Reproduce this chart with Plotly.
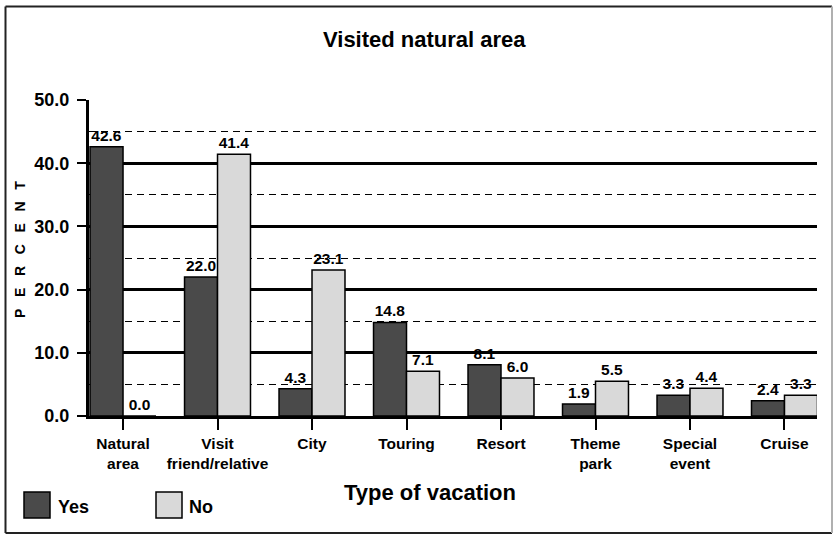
import plotly.graph_objects as go

categories = ["Natural<br>area", "Visit<br>friend/relative", "City", "Touring",
              "Resort", "Theme<br>park", "Special<br>event", "Cruise"]
yes_values = [42.6, 22.0, 4.3, 14.8, 8.1, 1.9, 3.3, 2.4]
no_values = [0.0, 41.4, 23.1, 7.1, 6.0, 5.5, 4.4, 3.3]
y_ticks = [0, 10, 20, 30, 40, 50]

FONT = "Liberation Sans, Arial, sans-serif"
YES_COLOR = "#4a4a4a"
NO_COLOR = "#d9d9d9"

fig = go.Figure()
fig.add_trace(go.Bar(
    name="Yes", x=categories, y=yes_values,
    marker=dict(color=YES_COLOR, line=dict(color="black", width=1.5)),
    text=[f"{v:.1f}" for v in yes_values], textposition="outside",
    textfont=dict(family=FONT, size=15.5, color="black", weight="bold"),
    cliponaxis=False,
))
fig.add_trace(go.Bar(
    name="No", x=categories, y=no_values,
    marker=dict(color=NO_COLOR, line=dict(color="black", width=1.5)),
    text=[f"{v:.1f}" for v in no_values], textposition="outside",
    textfont=dict(family=FONT, size=15.5, color="black", weight="bold"),
    cliponaxis=False,
))

L, R, T, B = 89, 16, 100, 119
W, H = 833, 535
pw, ph = W - L - R, H - T - B


def px(x):
    return (x - L) / pw


def py(y):
    return (H - B - y) / ph


fig.update_layout(
    width=W, height=H,
    margin=dict(l=L, r=R, t=T, b=B, pad=0),
    paper_bgcolor="white", plot_bgcolor="white",
    barmode="group", bargap=0.302, bargroupgap=0,
    showlegend=False,
    font=dict(family=FONT, color="black"),
    uniformtext=dict(mode=False),
)
fig.update_xaxes(
    range=[-0.36, 7.344], showline=True, linecolor="black", linewidth=3,
    ticks="outside", ticklen=11, tickwidth=1.5, tickcolor="black",
    tickfont=dict(family=FONT, size=15.5, color="black", weight="bold"),
    showgrid=False, zeroline=False,
)
fig.update_yaxes(
    range=[0, 50], tickvals=y_ticks, ticktext=[f"{v:.1f}" for v in y_ticks],
    showline=True, linecolor="black", linewidth=3,
    ticks="outside", ticklen=9, tickwidth=2, tickcolor="black",
    ticklabelstandoff=4,
    tickfont=dict(family=FONT, size=18, color="black", weight="bold"),
    showgrid=True, gridcolor="black", gridwidth=3,
    minor=dict(dtick=5, tick0=5, showgrid=True, gridcolor="black",
               gridwidth=1.3, griddash="7px,5px"),
    zeroline=False,
)

shapes = []
# outer frame
shapes.append(dict(type="line", xref="paper", yref="paper", x0=px(5.5), x1=px(5.5), y0=py(6.5), y1=py(533), line=dict(color="#222", width=2)))
shapes.append(dict(type="line", xref="paper", yref="paper", x0=px(5.5), x1=px(832), y0=py(6.5), y1=py(6.5), line=dict(color="#222", width=2)))
shapes.append(dict(type="line", xref="paper", yref="paper", x0=px(5.5), x1=px(832), y0=py(533), y1=py(533), line=dict(color="#222", width=2)))
shapes.append(dict(type="line", xref="paper", yref="paper", x0=px(832), x1=px(832), y0=py(6.5), y1=py(533), line=dict(color="#b0b0b0", width=2)))
# legend boxes
shapes.append(dict(type="rect", xref="paper", yref="paper", x0=px(24), x1=px(50), y0=py(492), y1=py(518),
                   fillcolor=YES_COLOR, line=dict(color="black", width=1.5)))
shapes.append(dict(type="rect", xref="paper", yref="paper", x0=px(156), x1=px(182), y0=py(492), y1=py(518),
                   fillcolor=NO_COLOR, line=dict(color="black", width=1.5)))

NB = "\u00a0" * 3
annotations = [
    dict(text="Visited natural area", x=px(424), y=py(39), xref="paper", yref="paper",
         showarrow=False, xanchor="center", yanchor="middle",
         font=dict(family=FONT, size=22, weight="bold", color="black")),
    dict(text="Type of vacation", x=px(430), y=py(492), xref="paper", yref="paper",
         showarrow=False, xanchor="center", yanchor="middle",
         font=dict(family=FONT, size=22, weight="bold", color="black")),
    dict(text=NB.join("PERCENT"), x=px(20), y=py(250), xref="paper", yref="paper",
         showarrow=False, xanchor="center", yanchor="middle", textangle=-90,
         font=dict(family=FONT, size=14, weight="bold", color="black")),
    dict(text="Yes", x=px(56), y=py(507), xref="paper", yref="paper",
         showarrow=False, xanchor="left", yanchor="middle",
         font=dict(family=FONT, size=18, weight="bold", color="black")),
    dict(text="No", x=px(187), y=py(507), xref="paper", yref="paper",
         showarrow=False, xanchor="left", yanchor="middle",
         font=dict(family=FONT, size=18, weight="bold", color="black")),
]
fig.update_layout(shapes=shapes, annotations=annotations)

fig.write_html("out.html", config={"displayModeBar": False},
               post_script="document.body.style.margin='0px';")
